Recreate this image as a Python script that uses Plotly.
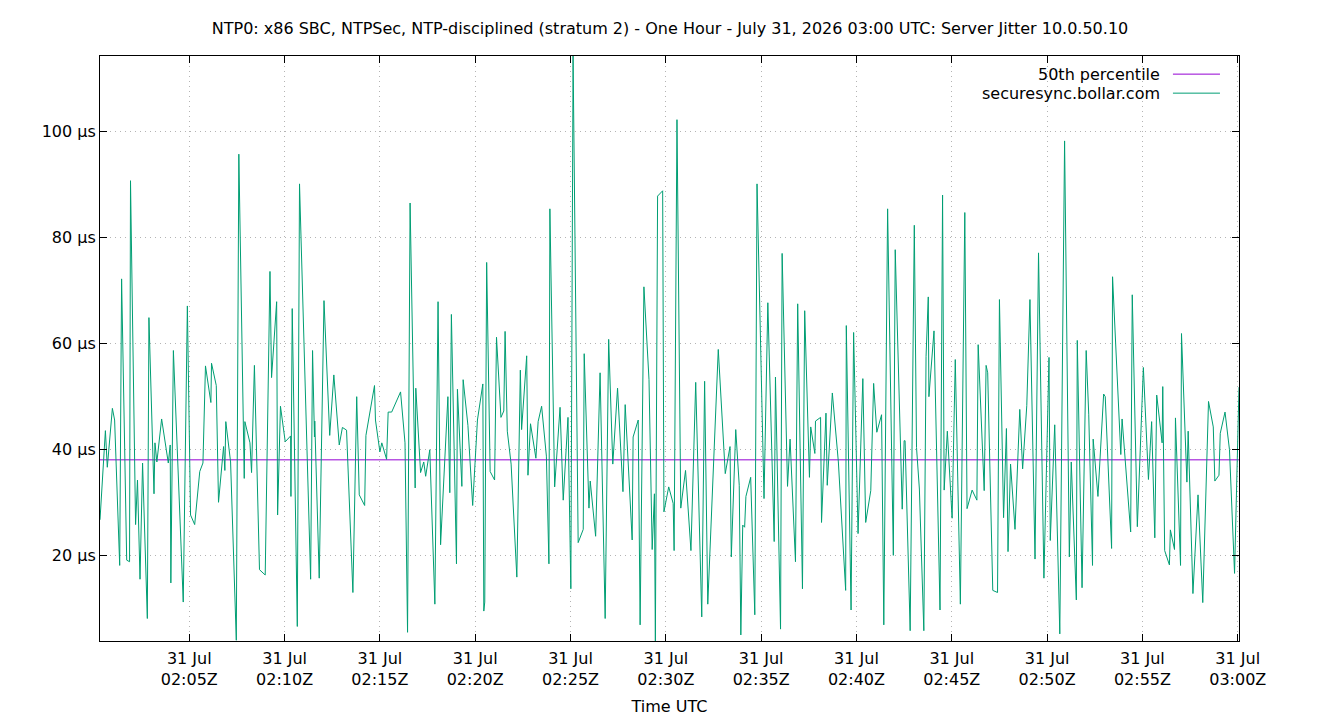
import pandas as pd
import plotly.graph_objects as go

title_text = ("NTP0: x86 SBC, NTPSec, NTP-disciplined (stratum 2) - One Hour - "
              "July 31, 2026 03:00 UTC: Server Jitter 10.0.50.10")
series_name = "securesync.bollar.com"
p50_name = "50th percentile"
start_time = "2026-07-31 02:00:00"

# seconds after 02:00:00 UTC
seconds = [19,36,42,58,65,81,87,103,112,115,131,137,145,153,168,173,189,192,198,213,
           234,240,242,250,281,294,304,317,333,343,351,368,370,385,392,408,412,415,430,448,
           456,473,475,491,496,505,521,539,554,559,575,578,587,602,619,620,624,640,647,682,
           688,694,695,709,724,742,755,772,782,795,815,827,835,852,856,883,886,900,906,921,
           926,937,951,965,979,987,995,1011,1013,1028,1038,1044,1057,1073,1083,1091,1114,1120,1125,1141,
           1144,1158,1162,1177,1192,1207,1224,1227,1230,1236,1247,1261,1267,1281,1290,1294,1301,1313,1331,1342,
           1346,1362,1366,1374,1391,1398,1409,1424,1432,1435,1450,1467,1477,1492,1501,1508,1524,1540,1543,1558,
           1562,1579,1593,1609,1620,1633,1648,1665,1672,1694,1697,1713,1719,1731,1747,1757,1764,1767,1774,1790,
           1794,1809,1823,1826,1835,1847,1862,1879,1894,1913,1922,1932,1965,1987,2002,2006,2020,2031,2036,2042,
           2048,2052,2067,2080,2087,2109,2121,2141,2145,2161,2166,2183,2191,2208,2215,2230,2237,2252,2256,2269,
           2271,2287,2290,2304,2308,2324,2343,2366,2368,2383,2391,2405,2420,2429,2445,2454,2464,2479,2486,2498,
           2516,2522,2544,2550,2553,2569,2582,2589,2598,2612,2619,2626,2628,2644,2663,2671,2676,2686,2701,2711,
           2727,2741,2748,2764,2779,2783,2802,2808,2813,2829,2844,2850,2863,2872,2877,2885,2899,2914,2923,2936,
           2946,2962,2973,2990,3006,3010,3024,3040,3055,3070,3076,3092,3095,3110,3123,3131,3143,3145,3160,3178,
           3183,3203,3206,3232,3236,3263,3268,3284,3303,3319,3329,3339,3345,3362,3364,3370,3385,3388,3401,3404,
           3420,3423,3440,3444,3459,3475,3490,3508,3523,3528,3541,3545,3560,3574,3590,3599,3604]

# server jitter, microseconds
jitter_us = [26.8,43.6,36.7,47.8,45.6,18.2,72.2,19.2,18.9,90.7,25.9,34.3,15.6,37.5,8.2,64.9,31.7,41.3,37.7,45.8,
             37.5,40.9,14.9,58.7,11.3,67.1,27.7,25.9,35.9,37.5,55.8,48.9,56.3,52.1,30.1,40.6,36.1,45.3,37.7,4.1,
             95.7,34.6,45.3,41.3,35.7,55.9,17.4,16.4,73.6,53.6,67.9,27.7,48.2,41.5,42.6,31.2,66.6,6.7,90.1,15.6,
             58.7,42.4,45.4,15.8,68.1,42.7,54.1,40.9,44.2,43.7,13.1,50.0,31.5,29.5,42.7,52.1,45.6,39.6,41.3,38.2,
             47.1,47.1,48.9,50.9,41.3,5.6,86.5,32.8,51.6,35.7,37.7,35.0,40.0,10.9,67.9,22.1,50.0,31.9,65.5,18.5,
             51.4,33.1,53.2,44.6,29.5,45.6,52.4,9.6,11.3,75.3,35.9,34.3,61.2,46.1,47.3,62.3,43.5,37.3,16.0,55.0,
             43.8,57.7,35.2,44.9,38.4,45.3,48.2,38.8,18.5,85.4,33.0,48.0,30.5,46.1,13.8,114.2,22.5,25.0,58.1,29.0,
             34.1,23.7,54.5,8.2,60.8,37.3,51.6,32.1,48.5,23.0,42.4,45.6,7.0,70.7,53.2,21.2,31.7,3.96,87.8,88.8,
             28.3,33.0,29.9,21.0,102.2,29.0,36.1,21.0,52.7,8.5,52.9,10.9,58.9,35.5,40.6,19.8,43.8,33.3,5.1,25.8,
             25.4,31.2,34.8,8.9,90.1,30.8,67.7,22.7,53.7,6.2,77.0,33.1,42.0,18.9,67.5,13.8,66.2,34.8,44.3,39.3,
             45.4,46.1,26.3,46.9,33.3,50.7,37.7,13.5,63.4,9.8,62.1,24.2,53.4,26.3,32.3,52.5,43.3,46.6,7.0,85.4,
             20.1,77.7,28.8,41.7,41.7,5.9,82.3,40.4,32.6,5.9,57.6,68.8,50.0,62.4,9.8,88.0,32.4,43.5,27.1,57.0,
             10.9,84.7,28.9,32.4,30.5,59.8,32.3,55.9,54.5,13.5,13.1,68.3,27.2,44.0,20.8,37.3,25.0,47.6,36.4,48.3,
             68.3,19.4,77.1,15.8,57.4,22.9,44.7,5.3,98.2,19.8,37.7,11.7,60.6,14.0,58.7,46.7,18.2,42.0,31.2,50.5,
             50.0,21.4,72.6,39.1,45.8,24.5,69.2,25.5,55.5,34.4,45.3,23.4,50.3,41.3,51.9,21.0,18.3,24.9,21.2,46.0,
             18.2,61.9,33.9,43.5,12.9,31.5,11.2,49.1,44.3,34.1,35.2,43.1,47.1,40.0,16.7,43.1,51.8]

p50_us = 38.1

y_tick_vals = [20, 40, 60, 80, 100]
x_tick_minutes = [5, 10, 15, 20, 25, 30, 35, 40, 45, 50, 55, 60]

assert len(seconds) == len(jitter_us), (len(seconds), len(jitter_us))

base = pd.Timestamp(start_time)
times = [base + pd.Timedelta(seconds=s) for s in seconds]
tick_times = [base + pd.Timedelta(minutes=m) for m in x_tick_minutes]
tick_text = [f"{t.day} {t.strftime('%b')}<br>{t.strftime('%H:%M')}Z" for t in tick_times]

GREEN = "#009e73"
VIOLET = "#9400d3"
FONT = "DejaVu Sans, Verdana, sans-serif"
FS = 16

fig = go.Figure()
fig.add_trace(go.Scatter(x=[times[0], times[-1]], y=[p50_us, p50_us], mode="lines",
                         line=dict(color=VIOLET, width=1), name=p50_name, showlegend=False))
fig.add_trace(go.Scatter(x=times, y=jitter_us, mode="lines",
                         line=dict(color=GREEN, width=1), name=series_name, showlegend=False))

# gnuplot-style key: right-aligned text followed by a sample line
legend_rows = [(p50_name, VIOLET), (series_name, GREEN)]
for i, (label, color) in enumerate(legend_rows):
    yk = 0.969 - i * 0.0325
    fig.add_annotation(x=0.9324, y=yk, xref="paper", yref="paper", text=label,
                       showarrow=False, xanchor="right", yanchor="middle",
                       font=dict(family=FONT, size=FS, color="black"))
    fig.add_shape(type="line", xref="paper", yref="paper", x0=0.942, x1=0.9833,
                  y0=yk, y1=yk, line=dict(color=color, width=1))

axis_common = dict(showline=True, linecolor="black", linewidth=1, mirror="allticks",
                   ticks="inside", ticklen=7, tickcolor="black", automargin=False,
                   showgrid=True, gridcolor="#b4b4b4", griddash="1px,4px", gridwidth=1,
                   zeroline=False, tickfont=dict(family=FONT, size=FS, color="black"))

fig.update_layout(
    width=1340, height=720,
    margin=dict(l=100, r=101, t=56, b=79),
    paper_bgcolor="white", plot_bgcolor="white",
    title=dict(text=title_text, x=0.5, xanchor="center", y=0.96, yanchor="middle",
               font=dict(family=FONT, size=FS, color="black")),
    xaxis=dict(**axis_common, range=[times[0], times[-1]], tickmode="array",
               tickvals=tick_times, ticktext=tick_text, ticklabelstandoff=3,
               title=dict(text="Time UTC", font=dict(family=FONT, size=FS, color="black"),
                          standoff=12)),
    yaxis=dict(**axis_common, range=[min(jitter_us), max(jitter_us)], tickmode="array",
               tickvals=y_tick_vals, ticktext=[f"{v} µs" for v in y_tick_vals]),
    showlegend=False,
)

fig.write_html("out.html")
